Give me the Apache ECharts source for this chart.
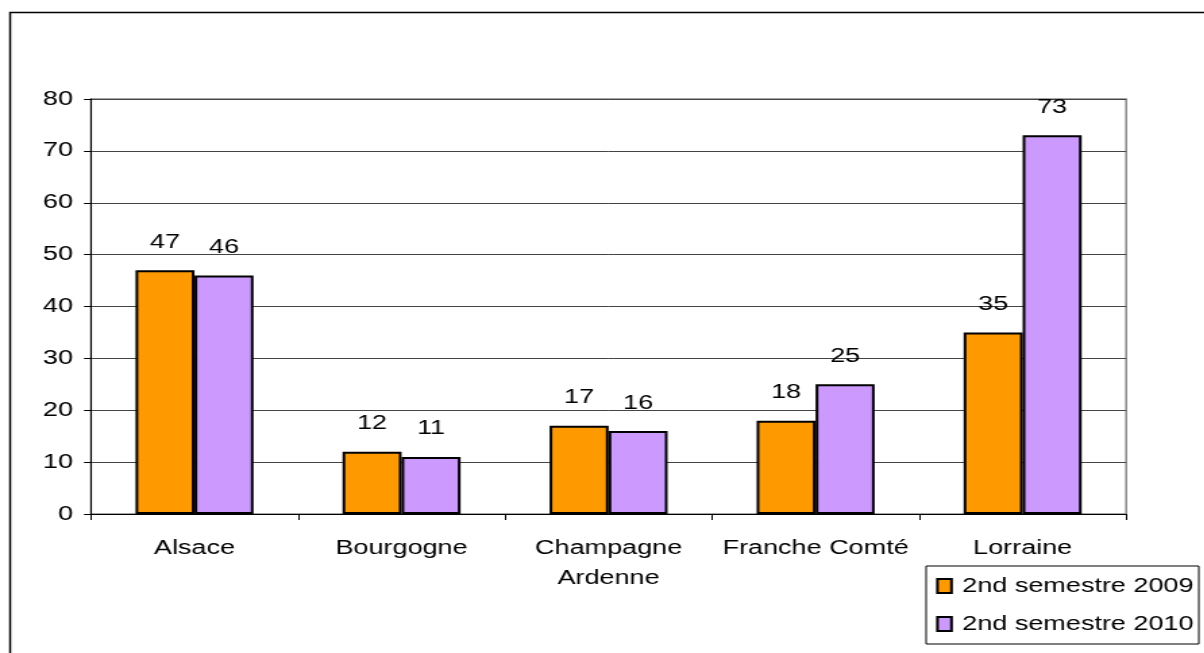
<!DOCTYPE html>
<html>
<head>
<meta charset="utf-8">
<script src="https://cdn.jsdelivr.net/npm/echarts@6/dist/echarts.min.js"></script>
<style>
  html, body { margin: 0; padding: 0; background: #fff; overflow: hidden; }
  /* the reference is a horizontally stretched picture, so the chart is drawn narrower and stretched */
  #chart { width: 892px; height: 653px; transform: scaleX(1.35); transform-origin: 0 0; }
</style>
</head>
<body>
<div id="chart"></div>
<script>
const categories = ["Alsace", "Bourgogne", "Champagne\nArdenne", "Franche Comté", "Lorraine"];
const seriesNames = ["2nd semestre 2009", "2nd semestre 2010"];
const values2009 = [47, 12, 17, 18, 35];
const values2010 = [46, 11, 16, 25, 73];
const yTicks = { min: 0, max: 80, interval: 10 };

const font = "'Liberation Sans', Arial, sans-serif";

const chart = echarts.init(document.getElementById("chart"));

const barLabel = {
  show: true,
  position: "top",
  distance: 18,
  color: "#000",
  fontFamily: font,
  fontSize: 20,
};

const option = {
  animation: false,
  backgroundColor: "#fff",
  textStyle: { fontFamily: font },
  graphic: [
    {
      type: "rect",
      shape: { x: 7.5, y: 12.5, width: 1000, height: 700 },
      style: { fill: "none", stroke: "#000", lineWidth: 1.5 },
      silent: true,
    },
  ],
  grid: {
    left: 67.4,
    right: 57.8,
    top: 99,
    bottom: 139,
    show: true,
    borderColor: "#888",
    borderWidth: 1.5,
  },
  legend: {
    orient: "vertical",
    left: 686,
    top: 566,
    padding: [10, 4, 10, 7.4],
    itemGap: 18,
    itemWidth: 10.4,
    itemHeight: 14,
    borderColor: "#000",
    borderWidth: 1,
    backgroundColor: "#fff",
    icon: "rect",
    textStyle: {
      color: "#000",
      fontFamily: font,
      fontSize: 20,
      padding: [0, 0, 0, 3],
    },
    data: seriesNames,
  },
  xAxis: {
    type: "category",
    data: categories,
    axisLine: { lineStyle: { color: "#000", width: 1 } },
    axisTick: { show: true, alignWithLabel: false, length: 6, lineStyle: { color: "#000" } },
    axisLabel: {
      interval: 0,
      color: "#000",
      fontFamily: font,
      fontSize: 20,
      margin: 19,
      lineHeight: 30,
    },
  },
  yAxis: {
    type: "value",
    min: yTicks.min,
    max: yTicks.max,
    interval: yTicks.interval,
    axisLine: { show: true, lineStyle: { color: "#000", width: 1 } },
    axisTick: { show: true, length: 5.2, lineStyle: { color: "#000" } },
    axisLabel: {
      color: "#000",
      fontFamily: font,
      fontSize: 20,
      margin: 13.3,
    },
    splitLine: { lineStyle: { color: "#444", width: 1 } },
  },
  series: [
    {
      name: seriesNames[0],
      type: "bar",
      data: values2009,
      barWidth: 43.7,
      barGap: "0%",
      itemStyle: { color: "#FF9900", borderColor: "#000", borderWidth: 2 },
      label: barLabel,
    },
    {
      name: seriesNames[1],
      type: "bar",
      data: values2010,
      barWidth: 43.7,
      barGap: "0%",
      itemStyle: { color: "#CC99FF", borderColor: "#000", borderWidth: 2 },
      label: barLabel,
    },
  ],
};

chart.setOption(option);
</script>
</body>
</html>
